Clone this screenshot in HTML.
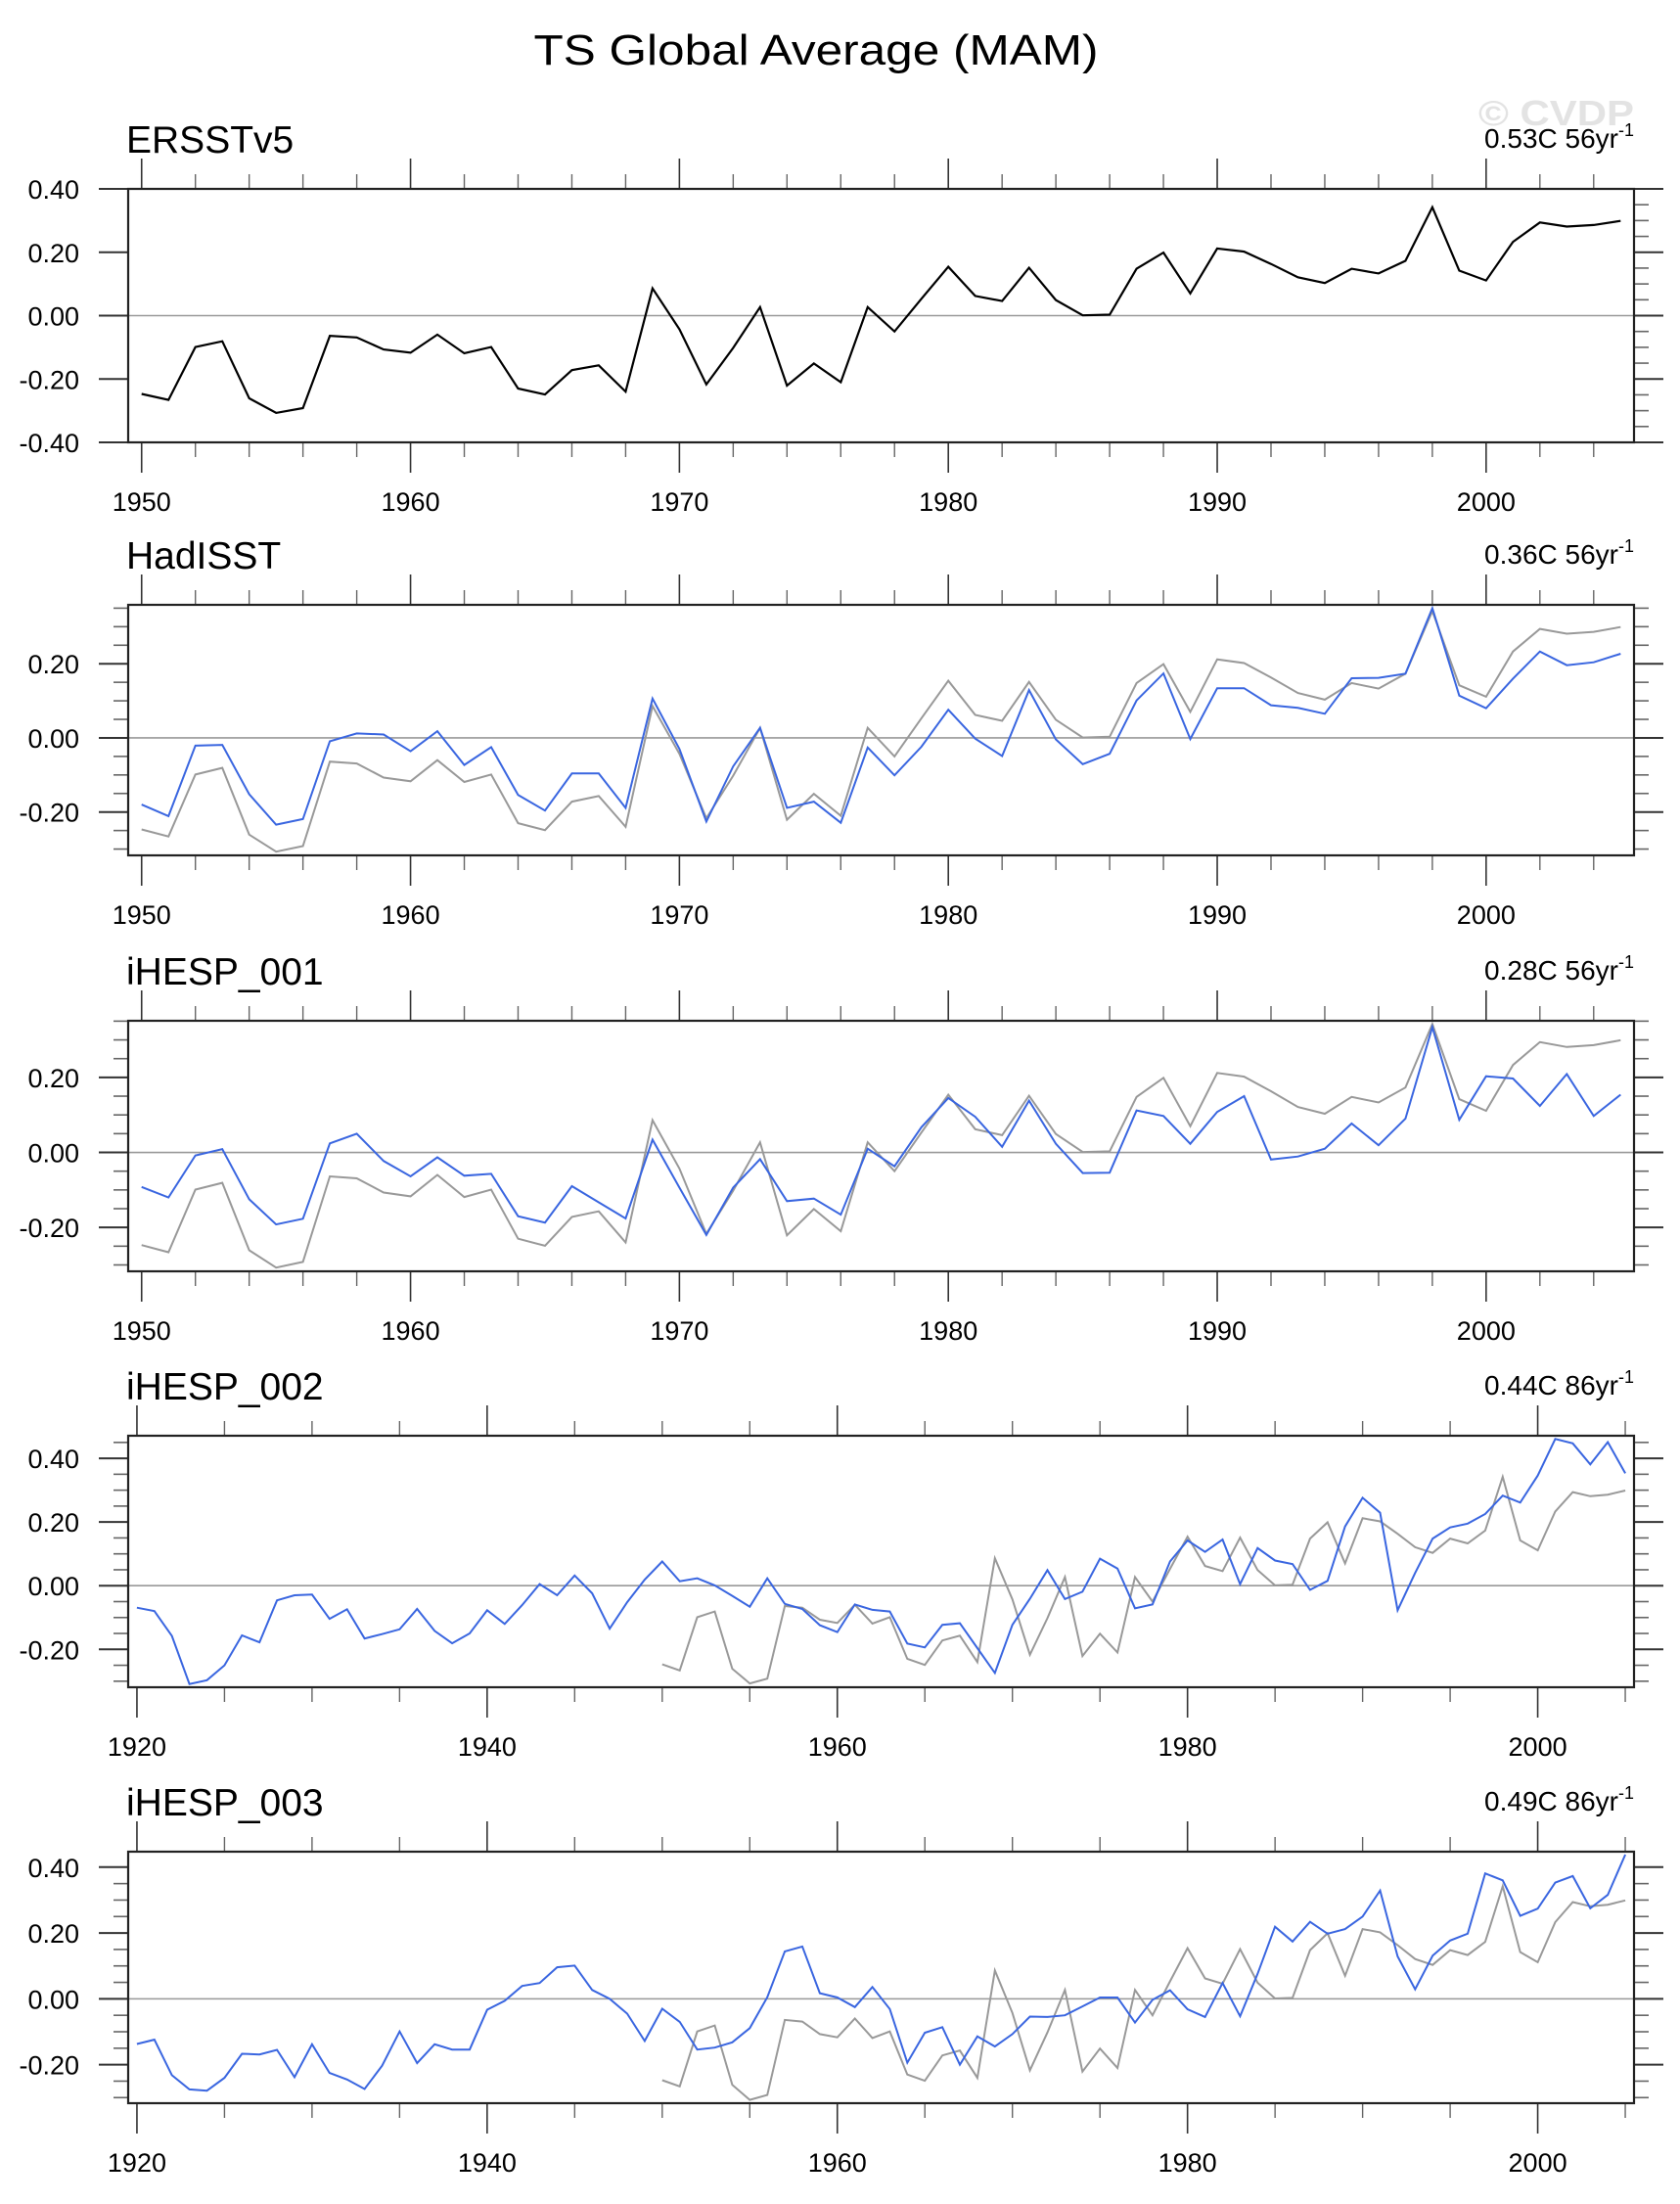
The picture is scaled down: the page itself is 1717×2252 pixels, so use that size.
<!DOCTYPE html>
<html><head><meta charset="utf-8"><title>TS Global Average (MAM)</title>
<style>
html,body{margin:0;padding:0;background:#fff;}
svg{display:block;font-family:"Liberation Sans",Arial,sans-serif;}
</style></head>
<body>
<svg id="chart" width="1717" height="2252" viewBox="0 0 1717 2252">
<text x="834" y="66" font-size="44" text-anchor="middle" textLength="577" lengthAdjust="spacingAndGlyphs">TS Global Average (MAM)</text>
<text x="1670" y="128" font-size="36" font-weight="bold" fill="#e3e3e3" text-anchor="end" textLength="159" lengthAdjust="spacingAndGlyphs">© CVDP</text>
</svg>
<script>
// ---- data ----
const yearsObs = [];
for (let y = 1950; y <= 2005; y++) yearsObs.push(y);
const yearsModel = [];
for (let y = 1920; y <= 2005; y++) yearsModel.push(y);

const ersstValues = [-0.247,-0.266,-0.099,-0.081,-0.261,-0.307,-0.292,-0.064,-0.069,-0.107,
-0.117,-0.060,-0.119,-0.099,-0.230,-0.249,-0.172,-0.157,-0.240,0.086,
-0.043,-0.217,-0.102,0.027,-0.221,-0.151,-0.210,0.027,-0.050,0.053,
0.154,0.062,0.046,0.151,0.049,0.001,0.003,0.148,0.199,0.070,
0.212,0.202,0.163,0.121,0.103,0.148,0.133,0.173,0.342,0.142,
0.111,0.233,0.294,0.281,0.286,0.299];

const hadisstValues = [-0.180,-0.211,-0.021,-0.019,-0.152,-0.234,-0.219,-0.009,0.012,0.009,
-0.036,0.018,-0.073,-0.025,-0.154,-0.196,-0.096,-0.096,-0.189,0.106,
-0.030,-0.226,-0.077,0.027,-0.189,-0.172,-0.229,-0.026,-0.101,-0.024,
0.076,-0.002,-0.049,0.129,-0.004,-0.071,-0.043,0.101,0.174,-0.003,
0.134,0.134,0.088,0.081,0.065,0.161,0.162,0.173,0.350,0.114,
0.080,0.160,0.233,0.196,0.204,0.227];

const ihesp001Values = [-0.092,-0.120,-0.008,0.009,-0.125,-0.192,-0.177,0.024,0.050,-0.023,
-0.064,-0.013,-0.062,-0.057,-0.170,-0.187,-0.090,-0.133,-0.176,0.034,
-0.094,-0.220,-0.094,-0.018,-0.130,-0.123,-0.166,0.010,-0.037,0.067,
0.145,0.095,0.015,0.138,0.023,-0.055,-0.054,0.112,0.097,0.023,
0.108,0.150,-0.019,-0.011,0.010,0.077,0.019,0.090,0.334,0.087,
0.203,0.197,0.124,0.209,0.097,0.154];

const ihesp002Values = [-0.069,-0.080,-0.158,-0.309,-0.297,-0.250,-0.156,-0.178,-0.046,-0.030,
-0.028,-0.104,-0.074,-0.166,-0.152,-0.137,-0.073,-0.142,-0.181,-0.150,
-0.077,-0.120,-0.061,0.005,-0.030,0.032,-0.024,-0.135,-0.052,0.019,
0.076,0.014,0.023,0.001,-0.032,-0.066,0.023,-0.057,-0.073,-0.124,
-0.146,-0.059,-0.076,-0.081,-0.182,-0.194,-0.123,-0.118,-0.196,-0.274,
-0.123,-0.041,0.049,-0.042,-0.019,0.085,0.054,-0.071,-0.059,0.076,
0.142,0.106,0.145,0.005,0.118,0.079,0.068,-0.013,0.015,0.186,
0.276,0.229,-0.077,0.040,0.148,0.183,0.195,0.225,0.283,0.261,
0.346,0.461,0.447,0.381,0.451,0.353];

const ihesp003Values = [-0.137,-0.124,-0.232,-0.275,-0.279,-0.240,-0.167,-0.169,-0.155,-0.238,
-0.138,-0.225,-0.245,-0.274,-0.203,-0.099,-0.195,-0.138,-0.154,-0.154,
-0.033,-0.006,0.039,0.048,0.096,0.101,0.027,0.000,-0.045,-0.128,
-0.030,-0.070,-0.154,-0.148,-0.132,-0.089,0.005,0.144,0.159,0.017,
0.004,-0.025,0.036,-0.031,-0.194,-0.103,-0.086,-0.200,-0.114,-0.145,
-0.107,-0.054,-0.055,-0.050,-0.023,0.004,0.004,-0.072,-0.003,0.026,
-0.032,-0.055,0.048,-0.053,0.076,0.219,0.174,0.234,0.198,0.212,
0.250,0.329,0.129,0.029,0.131,0.177,0.198,0.381,0.360,0.252,
0.274,0.353,0.373,0.275,0.316,0.438];

const panelNames = ["ERSSTv5","HadISST","iHESP_001","iHESP_002","iHESP_003"];
const trendLabels = ["0.53C 56yr","0.36C 56yr","0.28C 56yr","0.44C 86yr","0.49C 86yr"];
const yTicksA = [-0.4,-0.2,0,0.2,0.4];
const yTicksB = [-0.2,0,0.2];
const yTicksC = [-0.2,0,0.2,0.4];
const xTicksObs = [1950,1960,1970,1980,1990,2000];
const xTicksModel = [1920,1940,1960,1980,2000];

// ---- layout ----
const svg = document.getElementById('chart');
const NS = 'http://www.w3.org/2000/svg';
const L = 131, R = 1670;
const panels = [
 {top:193, bot:452, ymin:-0.4, ymax:0.4, x0:1949.5, x1:2005.5, yt:yTicksA, xt:xTicksObs, minorX:2, leftMinor:false,
  series:[{x:yearsObs, y:ersstValues, c:'#000', w:2.2, n:'ersstv5-line'}]},
 {top:618, bot:874, ymin:-0.317, ymax:0.359, x0:1949.5, x1:2005.5, yt:yTicksB, xt:xTicksObs, minorX:2, leftMinor:true,
  series:[{x:yearsObs, y:ersstValues, c:'#999', w:2, n:'ersstv5-reference-line'},{x:yearsObs, y:hadisstValues, c:'#3a66e0', w:2, n:'hadisst-line'}]},
 {top:1043, bot:1299, ymin:-0.317, ymax:0.351, x0:1949.5, x1:2005.5, yt:yTicksB, xt:xTicksObs, minorX:2, leftMinor:true,
  series:[{x:yearsObs, y:ersstValues, c:'#999', w:2, n:'ersstv5-reference-line'},{x:yearsObs, y:ihesp001Values, c:'#3a66e0', w:2, n:'ihesp-001-line'}]},
 {top:1467, bot:1724, ymin:-0.319, ymax:0.471, x0:1919.5, x1:2005.5, yt:yTicksC, xt:xTicksModel, minorX:5, leftMinor:true,
  series:[{x:yearsObs, y:ersstValues, c:'#999', w:2, n:'ersstv5-reference-line'},{x:yearsModel, y:ihesp002Values, c:'#3a66e0', w:2, n:'ihesp-002-line'}]},
 {top:1892, bot:2149, ymin:-0.317, ymax:0.447, x0:1919.5, x1:2005.5, yt:yTicksC, xt:xTicksModel, minorX:5, leftMinor:true,
  series:[{x:yearsObs, y:ersstValues, c:'#999', w:2, n:'ersstv5-reference-line'},{x:yearsModel, y:ihesp003Values, c:'#3a66e0', w:2, n:'ihesp-003-line'}]}
];

function mk(tag, attrs, parent){
  const e = document.createElementNS(NS, tag);
  for (const k in attrs) e.setAttribute(k, attrs[k]);
  (parent||svg).appendChild(e);
  return e;
}
function line(g,x1,y1,x2,y2,col,w){
  const e = mk('line',{x1:x1,y1:y1,x2:x2,y2:y2,stroke:col,'stroke-width':w},g);
  
  
  return e;
}

panels.forEach((p,i)=>{
  const g = mk('g',{});
  
  
  const sx = v => L + (v - p.x0) / (p.x1 - p.x0) * (R - L);
  const sy = v => p.bot - (v - p.ymin) / (p.ymax - p.ymin) * (p.bot - p.top);

  const t = mk('text',{x:129, y:p.top-37, 'font-size':39},g);
  t.textContent = panelNames[i];
  
  
  const tr = mk('text',{x:1670, y:p.top-42, 'font-size':28, 'text-anchor':'end'},g);
  tr.textContent = trendLabels[i];
  const sup = mk('tspan',{'font-size':18, dy:-12},tr);
  sup.textContent = '-1';
  
  

  const z = mk('line',{x1:L,y1:sy(0),x2:R,y2:sy(0),stroke:'#999','stroke-width':1.6},g);
  
  

  const minorStart = Math.ceil(p.ymin/0.05 - 1e-6), minorEnd = Math.floor(p.ymax/0.05 + 1e-6);
  for (let k = minorStart; k <= minorEnd; k++){
    const v = k*0.05, y = sy(v);
    const major = Math.abs(v/0.2 - Math.round(v/0.2)) < 1e-6;
    if (major){ line(g,L-30,y,L,y,'#333',2); line(g,R,y,R+30,y,'#333',2); }
    else { if (p.leftMinor) line(g,L-15,y,L,y,'#666',1.6); line(g,R,y,R+15,y,'#666',1.6); }
  }
  p.yt.forEach(v=>{
    const lt = mk('text',{x:81, y:sy(v)+10, 'font-size':27, 'text-anchor':'end'},g);
    lt.textContent = v.toFixed(2);
    
    
  });

  const xs = Math.ceil(p.x0), xe = Math.floor(p.x1);
  for (let yr = xs; yr <= xe; yr++){
    const x = sx(yr);
    const isMajor = p.xt.includes(yr) || (p.minorX===2 && yr%10===0) || (p.minorX===5 && yr%20===0);
    if (isMajor){ line(g,x,p.top-31,x,p.top,'#333',1.6); line(g,x,p.bot,x,p.bot+31,'#333',1.6); }
    else if ((yr - p.xt[0]) % p.minorX === 0){ line(g,x,p.top-15,x,p.top,'#666',1.4); line(g,x,p.bot,x,p.bot+15,'#666',1.4); }
  }
  p.xt.forEach(v=>{
    const xt = mk('text',{x:sx(v), y:p.bot+70, 'font-size':27, 'text-anchor':'middle'},g);
    xt.textContent = v;
    
    
  });

  p.series.forEach(s=>{
    const pts = s.x.map((yr,j)=>sx(yr).toFixed(1)+','+sy(s.y[j]).toFixed(1)).join(' ');
    const pl = mk('polyline',{points:pts, fill:'none', stroke:s.c, 'stroke-width':s.w, 'stroke-linejoin':'miter'},g);
    
    
  });

  const fr = mk('rect',{x:L,y:p.top,width:R-L,height:p.bot-p.top,fill:'none',stroke:'#222','stroke-width':2.2},g);
  
  
});
</script>
</body></html>
